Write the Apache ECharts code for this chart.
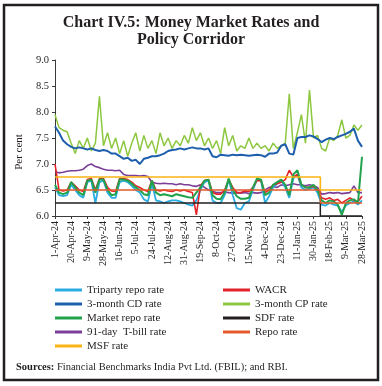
<!DOCTYPE html>
<html>
<head>
<meta charset="utf-8">
<script src="https://cdn.jsdelivr.net/npm/echarts@6/dist/echarts.min.js"></script>
<style>
html,body{margin:0;padding:0;background:#fff;}
#c{width:382px;height:386px;}
</style>
</head>
<body>
<div id="c"></div>
<script>
// x-axis tick labels (every 19 days, 1-Apr-24 .. 28-Mar-25)
var tickLabels = ['1-Apr-24','20-Apr-24','9-May-24','28-May-24','16-Jun-24','5-Jul-24','24-Jul-24','12-Aug-24','31-Aug-24','19-Sep-24','8-Oct-24','27-Oct-24','15-Nov-24','4-Dec-24','23-Dec-24','11-Jan-25','30-Jan-25','18-Feb-25','9-Mar-25','28-Mar-25'];
var totalDays = 361;       // 1-Apr-24 .. 28-Mar-25
var tickStep = 19;         // days between tick labels
var sampleCount = 77;      // observations per market series, evenly spread over the period

// Market rates (per cent), sampled evenly over the year
var triparty = [6.55,6.40,6.38,6.40,6.60,6.50,6.40,6.35,6.65,6.68,6.25,6.65,6.68,6.45,6.35,6.35,6.65,6.68,6.65,6.58,
                6.50,6.45,6.32,6.28,6.62,6.30,6.28,6.25,6.28,6.30,6.30,6.28,6.25,6.22,6.20,6.30,6.50,6.65,6.68,6.30,
                6.25,6.25,6.40,6.70,6.40,6.15,6.12,6.25,6.28,6.50,6.70,6.68,6.25,6.38,6.55,6.62,6.68,6.55,6.35,6.72,
                6.80,6.55,6.50,6.52,6.55,6.45,6.22,6.20,6.25,6.22,6.20,6.08,6.20,6.25,6.28,6.22,6.30];
var wacr = [7.00,6.50,6.48,6.50,6.65,6.58,6.50,6.47,6.70,6.72,6.50,6.72,6.72,6.55,6.48,6.47,6.72,6.72,6.70,6.65,
            6.58,6.55,6.50,6.47,6.68,6.50,6.48,6.50,6.48,6.47,6.50,6.48,6.50,6.47,6.45,6.02,6.58,6.68,6.70,6.45,
            6.42,6.42,6.50,6.70,6.55,6.45,6.45,6.48,6.47,6.55,6.68,6.68,6.45,6.50,6.60,6.62,6.65,6.70,6.88,6.75,
            6.80,6.60,6.55,6.55,6.57,6.50,6.35,6.32,6.35,6.30,6.32,6.25,6.30,6.35,6.30,6.28,6.38];
var cdRate = [7.72,7.60,7.45,7.38,7.33,7.30,7.32,7.30,7.28,7.30,7.27,7.25,7.27,7.25,7.20,7.20,7.15,7.10,7.12,7.06,
              7.08,7.00,7.10,7.12,7.15,7.15,7.17,7.20,7.25,7.27,7.28,7.30,7.28,7.30,7.32,7.30,7.30,7.28,7.30,7.15,
              7.13,7.18,7.17,7.16,7.18,7.17,7.18,7.17,7.16,7.17,7.18,7.17,7.14,7.20,7.20,7.22,7.35,7.38,7.20,7.18,
              7.50,7.52,7.52,7.55,7.53,7.48,7.42,7.47,7.50,7.48,7.52,7.55,7.58,7.62,7.68,7.45,7.33];
var cpRate = [7.95,7.70,7.65,7.62,7.40,7.20,7.45,7.30,7.50,7.25,7.40,8.30,7.35,7.60,7.30,7.50,7.20,7.45,7.15,7.40,
              7.60,7.25,7.55,7.30,7.45,7.20,7.60,7.35,7.50,7.30,7.45,7.35,7.55,7.40,7.70,7.45,7.60,7.35,7.50,7.30,
              7.45,7.20,7.70,7.35,7.55,7.25,7.35,7.30,7.50,7.30,7.40,7.30,7.35,7.25,7.40,7.30,7.35,7.40,8.35,7.30,
              7.60,7.95,7.40,8.42,7.50,7.55,7.30,7.25,7.50,7.45,7.55,7.85,7.50,7.55,7.75,7.65,7.75];
var marketRepo = [6.60,6.45,6.42,6.45,6.65,6.55,6.45,6.40,6.68,6.70,6.45,6.70,6.70,6.50,6.40,6.42,6.70,6.70,6.68,6.62,
                  6.55,6.50,6.42,6.40,6.68,6.45,6.40,6.42,6.40,6.38,6.42,6.40,6.38,6.36,6.35,6.45,6.55,6.68,6.70,6.40,
                  6.33,6.32,6.45,6.72,6.50,6.38,6.33,6.33,6.35,6.55,6.72,6.70,6.40,6.45,6.60,6.65,6.70,6.60,6.40,6.80,
                  6.88,6.60,6.55,6.55,6.60,6.50,6.30,6.25,6.30,6.28,6.22,6.02,6.25,6.30,6.32,6.25,7.14];
var tbill91 = [6.85,6.83,6.84,6.86,6.87,6.87,6.88,6.90,6.97,7.00,6.95,6.93,6.90,6.88,6.88,6.87,6.88,6.80,6.78,6.78,
               6.78,6.77,6.78,6.76,6.65,6.63,6.62,6.63,6.62,6.62,6.60,6.62,6.60,6.60,6.58,6.57,6.60,6.55,6.50,6.47,
               6.45,6.45,6.46,6.45,6.44,6.45,6.44,6.45,6.43,6.45,6.44,6.45,6.50,6.55,6.57,6.55,6.60,6.58,6.60,6.62,
               6.60,6.60,6.58,6.60,6.58,6.55,6.42,6.43,6.45,6.44,6.45,6.43,6.44,6.45,6.58,6.45,6.45];

// Policy corridor: rates before and after the 7-Feb-25 cut
var policyDays = [0, 312, 361];
var sdfRate  = [6.25, 6.00, 6.00];
var repoRate = [6.50, 6.25, 6.25];
var msfRate  = [6.75, 6.50, 6.50];

var yTicks = {min: 6.0, max: 9.0, step: 0.5};

var serif = "'Liberation Serif', 'DejaVu Serif', serif";
var sampleStep = totalDays / (sampleCount - 1);
function sampled(arr){ return arr.map(function(v,i){ return [i*sampleStep, v]; }); }
function policy(arr){ return arr.map(function(v,i){ return [policyDays[i], v]; }); }

var C = {
  tri:'#2aace2', wacr:'#e3232a', cd:'#1d5fad', cp:'#8dc73f', mr:'#22a24a',
  sdf:'#231f20', tb:'#7b3f98', repo:'#e35a2a', msf:'#fbb414'
};

function ln(name, data, color, width, z, stepped){
  var s = {name:name, type:'line', data:data, symbol:'none', showSymbol:false,
    lineStyle:{color:color, width:width}, itemStyle:{color:color}, z:z, animation:false};
  if (stepped) s.step = 'end';
  return s;
}

var chart = echarts.init(document.getElementById('c'), null, {renderer:'canvas'});
var legendText = {fontFamily:serif, fontSize:11, color:'#231f20', lineHeight:14};
chart.setOption({
  backgroundColor:'#fff',
  animation:false,
  grid:{left:55, right:20, top:60, bottom:170, containLabel:false},
  xAxis:{
    type:'value', min:0, max:totalDays, interval:tickStep,
    axisLine:{show:true, lineStyle:{color:'#3a3a3a', width:1}},
    axisTick:{show:true, length:3, lineStyle:{color:'#3a3a3a'}},
    splitLine:{show:false},
    axisLabel:{rotate:90, fontFamily:serif, fontSize:10, color:'#231f20', margin:5,
      formatter:function(v){ return tickLabels[Math.round(v/tickStep)] || ''; }}
  },
  yAxis:{
    type:'value', min:yTicks.min, max:yTicks.max, interval:yTicks.step,
    axisLine:{show:true, lineStyle:{color:'#3a3a3a', width:1}},
    axisTick:{show:true, length:3, lineStyle:{color:'#3a3a3a'}},
    splitLine:{show:false},
    axisLabel:{fontFamily:serif, fontSize:10.5, color:'#231f20', margin:6,
      formatter:function(v){ return v.toFixed(1); }}
  },
  legend:[
    {data:['Triparty repo rate','3-month CD rate','Market repo rate','91-day  T-bill rate','MSF rate'],
     orient:'vertical', left:55, top:283, padding:0, itemWidth:27, itemHeight:3, itemGap:0, icon:'rect',
     textStyle:legendText, selectedMode:false},
    {data:['WACR','3-month CP rate','SDF rate','Repo rate'],
     orient:'vertical', left:223, top:283, padding:0, itemWidth:27, itemHeight:3, itemGap:0, icon:'rect',
     textStyle:legendText, selectedMode:false}
  ],
  graphic:[
    {type:'rect', shape:{x:4, y:5, width:374, height:375}, style:{fill:'none', stroke:'#231f20', lineWidth:2.5}, silent:true},
    {type:'text', x:191, y:23,
     style:{text:'Chart IV.5: Money Market Rates and', fontFamily:serif, fontWeight:'bold', fontSize:16,
            fill:'#231f20', align:'center', verticalAlign:'middle'}},
    {type:'text', x:191, y:40,
     style:{text:'Policy Corridor', fontFamily:serif, fontWeight:'bold', fontSize:16,
            fill:'#231f20', align:'center', verticalAlign:'middle'}},
    {type:'text', x:19, y:152, rotation:Math.PI/2,
     style:{text:'Per cent', fontFamily:serif, fontSize:11, fill:'#231f20', align:'center', verticalAlign:'middle'}},
    {type:'text', x:16, y:367,
     style:{text:'{b|Sources:} Financial Benchmarks India Pvt Ltd. (FBIL); and RBI.',
            fontFamily:serif, fontSize:10.5, fill:'#231f20', verticalAlign:'middle',
            rich:{b:{fontFamily:serif, fontSize:10.5, fontWeight:'bold', fill:'#231f20'}}}}
  ],
  series:[
    ln('3-month CP rate', sampled(cpRate), C.cp, 1.5, 2),
    ln('3-month CD rate', sampled(cdRate), C.cd, 2, 3),
    ln('91-day  T-bill rate', sampled(tbill91), C.tb, 1.6, 4),
    ln('Triparty repo rate', sampled(triparty), C.tri, 1.8, 5),
    ln('WACR', sampled(wacr), C.wacr, 1.6, 6),
    ln('Market repo rate', sampled(marketRepo), C.mr, 2, 7),
    ln('SDF rate', policy(sdfRate), C.sdf, 1.5, 8, true),
    ln('Repo rate', policy(repoRate), C.repo, 1.6, 9, true),
    ln('MSF rate', policy(msfRate), C.msf, 1.6, 10, true)
  ]
});
</script>
</body>
</html>
